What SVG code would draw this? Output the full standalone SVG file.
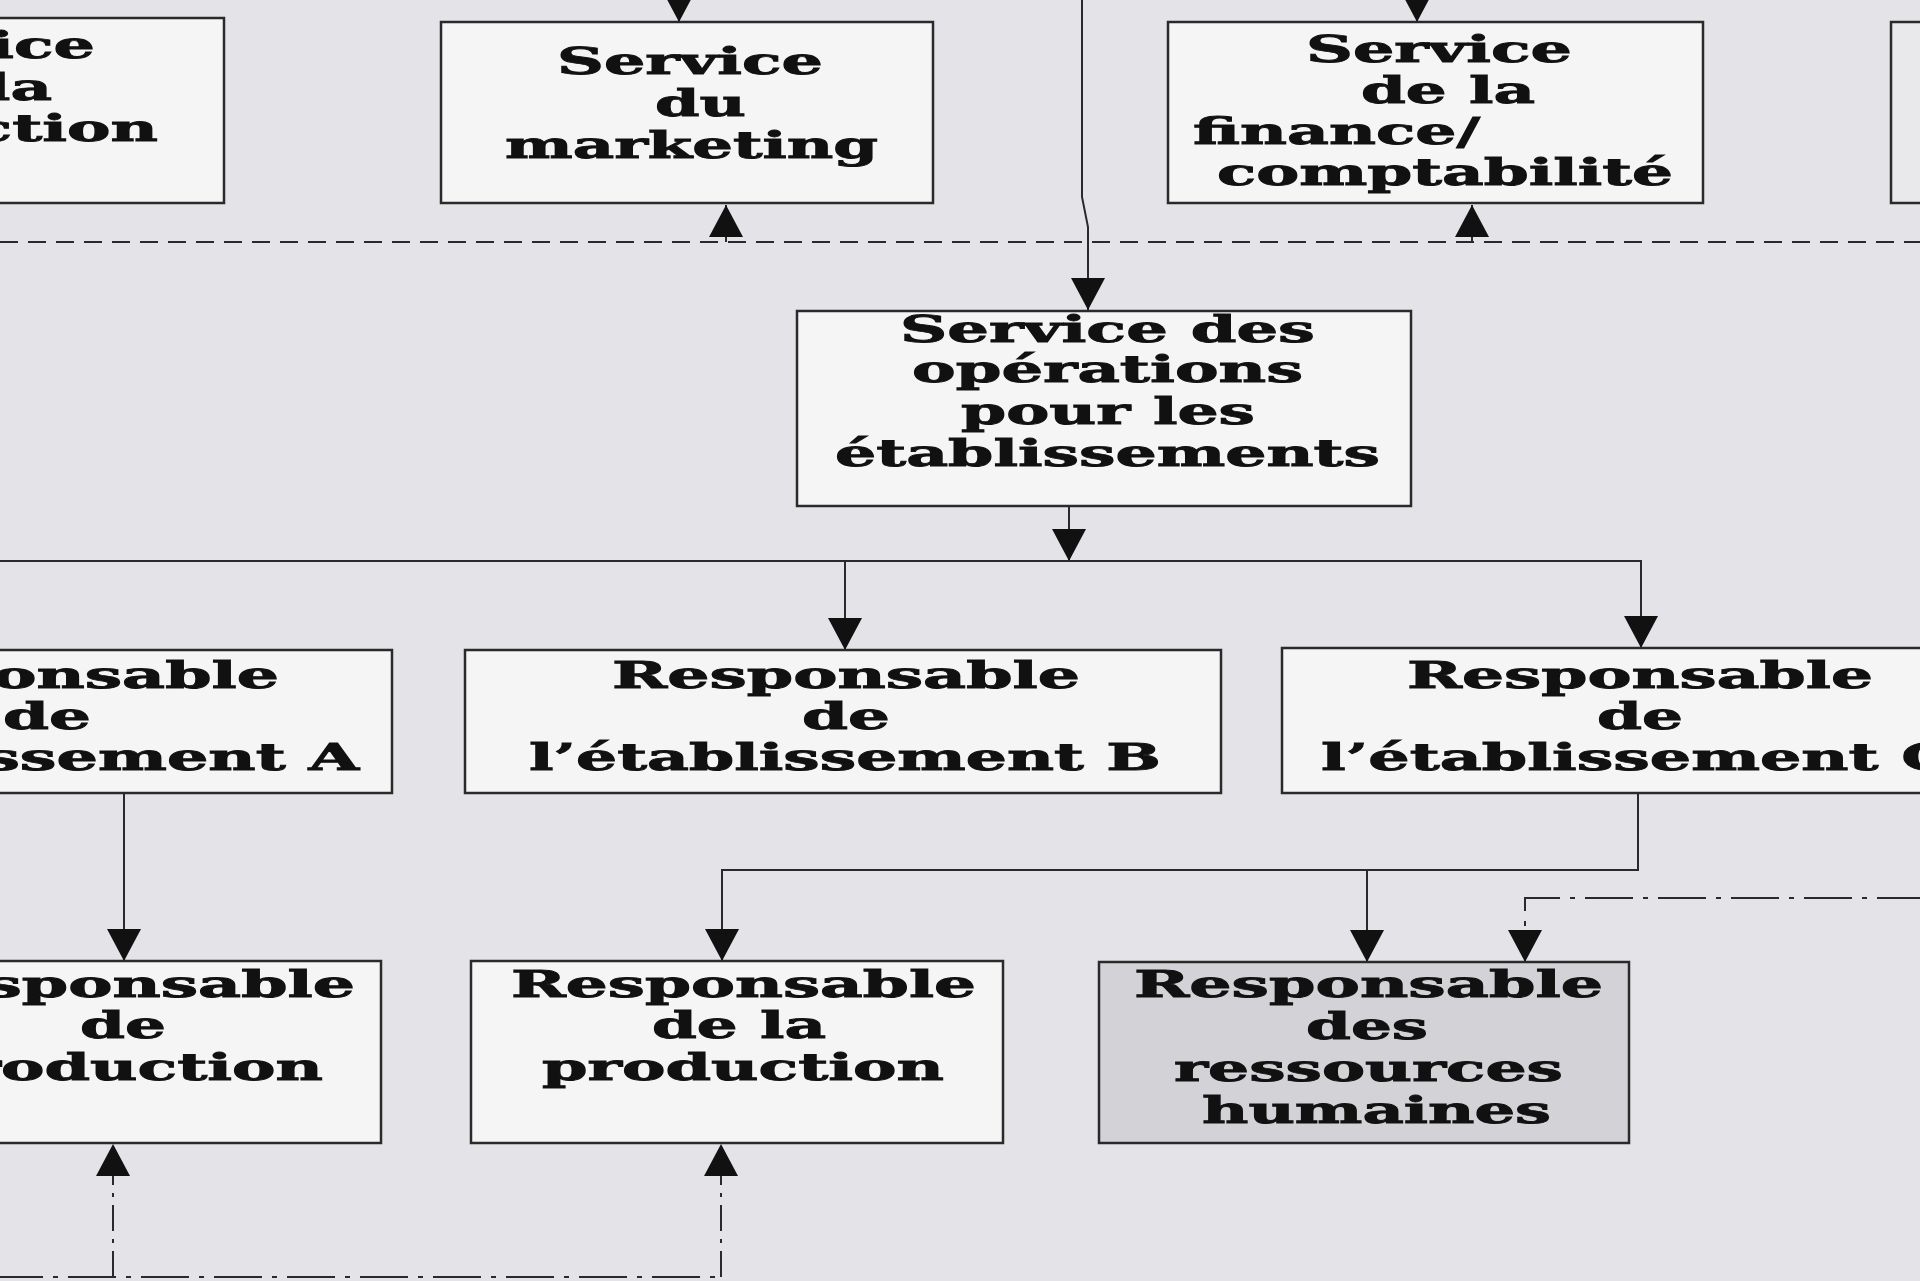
<svg xmlns="http://www.w3.org/2000/svg" xmlns:xlink="http://www.w3.org/1999/xlink" width="1920" height="1281" viewBox="0 0 1920 1281">
<style>
.bg{fill:#e4e4e8}
.box{fill:#f5f5f5;stroke:#2a2a2a;stroke-width:2.5}
.grey{fill:#d3d3d7}
.edge{fill:#e9e9ec}
.t{font-family:"DejaVu Serif","Liberation Serif",serif;font-weight:bold;font-size:37px;fill:#111;stroke:#111;stroke-width:0.9}
.ln{fill:none;stroke:#2a2a2a;stroke-width:2}
.dash{stroke-dasharray:18 10}
.dd{stroke-dasharray:48 10 5 10}
.ddv{stroke-dasharray:26 8 4 8}
</style>
<defs>
<marker id="arr" markerUnits="userSpaceOnUse" viewBox="0 0 32 34" markerWidth="32" markerHeight="34" refX="32" refY="17" orient="auto">
<path d="M0,0 L32,17 L0,34 Z" fill="#111"/>
</marker>
</defs>
<rect class="bg" x="0" y="0" width="1920" height="1281"/>

<g id="connectors">
<line class="ln" x1="679" y1="-10" x2="679" y2="22" marker-end="url(#arr)"/>
<line class="ln" x1="1417" y1="-10" x2="1417" y2="22" marker-end="url(#arr)"/>
<path class="ln" d="M1082,-5 L1082,197 L1088,227 L1088,310" marker-end="url(#arr)"/>
<line class="ln dash" x1="0" y1="242" x2="1920" y2="242"/>
<line class="ln" x1="726" y1="242" x2="726" y2="205" marker-end="url(#arr)"/>
<line class="ln" x1="1472" y1="242" x2="1472" y2="205" marker-end="url(#arr)"/>
<line class="ln" x1="1069" y1="506" x2="1069" y2="561" marker-end="url(#arr)"/>
<path class="ln" d="M-5,561 H1641 V648" marker-end="url(#arr)"/>
<line class="ln" x1="845" y1="561" x2="845" y2="650" marker-end="url(#arr)"/>
<line class="ln" x1="124" y1="793" x2="124" y2="961" marker-end="url(#arr)"/>
<path class="ln" d="M1638,793 V870 H722 V961" marker-end="url(#arr)"/>
<line class="ln" x1="1367" y1="870" x2="1367" y2="962" marker-end="url(#arr)"/>
<path class="ln dd" d="M1925,898 H1525 V962" marker-end="url(#arr)"/>
<line class="ln dd" x1="-5" y1="1277" x2="721" y2="1277"/>
<line class="ln ddv" x1="113" y1="1277" x2="113" y2="1144" marker-end="url(#arr)"/>
<line class="ln ddv" x1="721" y1="1277" x2="721" y2="1144" marker-end="url(#arr)"/>
</g>

<g id="service-production">
<rect class="box" x="-310" y="18" width="534" height="185"/>
<text class="t" x="-171" y="58" textLength="266" lengthAdjust="spacingAndGlyphs">Service</text>
<text class="t" x="-122" y="100" textLength="174" lengthAdjust="spacingAndGlyphs">de la</text>
<text class="t" x="-244" y="141" textLength="402" lengthAdjust="spacingAndGlyphs">production</text>
</g>

<g id="service-marketing">
<rect class="box" x="441" y="22" width="492" height="181"/>
<text class="t" x="557" y="74" textLength="266" lengthAdjust="spacingAndGlyphs">Service</text>
<text class="t" x="655" y="116" textLength="91" lengthAdjust="spacingAndGlyphs">du</text>
<text class="t" x="505" y="158" textLength="373" lengthAdjust="spacingAndGlyphs">marketing</text>
</g>

<g id="service-finance">
<rect class="box" x="1168" y="22" width="535" height="181"/>
<text class="t" x="1306" y="62" textLength="266" lengthAdjust="spacingAndGlyphs">Service</text>
<text class="t" x="1361" y="103" textLength="174" lengthAdjust="spacingAndGlyphs">de la</text>
<text class="t" x="1193" y="144" textLength="287" lengthAdjust="spacingAndGlyphs">finance/</text>
<text class="t" x="1217" y="185" textLength="456" lengthAdjust="spacingAndGlyphs">comptabilité</text>
</g>

<g id="service-right">
<rect class="box edge" x="1891" y="22" width="200" height="181"/>
</g>

<g id="service-operations">
<rect class="box" x="797" y="311" width="614" height="195"/>
<text class="t" x="900" y="342" textLength="415" lengthAdjust="spacingAndGlyphs">Service des</text>
<text class="t" x="912" y="382" textLength="391" lengthAdjust="spacingAndGlyphs">opérations</text>
<text class="t" x="961" y="424" textLength="294" lengthAdjust="spacingAndGlyphs">pour les</text>
<text class="t" x="835" y="466" textLength="545" lengthAdjust="spacingAndGlyphs">établissements</text>
</g>

<g id="resp-etab-a">
<rect class="box" x="-300" y="650" width="692" height="143"/>
<text class="t" x="-189" y="688" textLength="468" lengthAdjust="spacingAndGlyphs">Responsable</text>
<text class="t" x="3" y="729" textLength="88" lengthAdjust="spacingAndGlyphs">de</text>
<text class="t" x="-273" y="770" textLength="632" lengthAdjust="spacingAndGlyphs">l’établissement A</text>
</g>

<g id="resp-etab-b">
<rect class="box" x="465" y="650" width="756" height="143"/>
<text class="t" x="612" y="688" textLength="468" lengthAdjust="spacingAndGlyphs">Responsable</text>
<text class="t" x="802" y="729" textLength="88" lengthAdjust="spacingAndGlyphs">de</text>
<text class="t" x="529" y="770" textLength="632" lengthAdjust="spacingAndGlyphs">l’établissement B</text>
</g>

<g id="resp-etab-c">
<rect class="box" x="1282" y="648" width="760" height="145"/>
<text class="t" x="1407" y="688" textLength="466" lengthAdjust="spacingAndGlyphs">Responsable</text>
<text class="t" x="1597" y="729" textLength="86" lengthAdjust="spacingAndGlyphs">de</text>
<text class="t" x="1321" y="770" textLength="632" lengthAdjust="spacingAndGlyphs">l’établissement C</text>
</g>

<g id="resp-production-a">
<rect class="box" x="-200" y="961" width="581" height="182"/>
<text class="t" x="-113" y="997" textLength="468" lengthAdjust="spacingAndGlyphs">Responsable</text>
<text class="t" x="80" y="1038" textLength="86" lengthAdjust="spacingAndGlyphs">de</text>
<text class="t" x="-79" y="1080" textLength="402" lengthAdjust="spacingAndGlyphs">production</text>
</g>

<g id="resp-production-b">
<rect class="box" x="471" y="961" width="532" height="182"/>
<text class="t" x="511" y="997" textLength="465" lengthAdjust="spacingAndGlyphs">Responsable</text>
<text class="t" x="652" y="1038" textLength="174" lengthAdjust="spacingAndGlyphs">de la</text>
<text class="t" x="542" y="1080" textLength="402" lengthAdjust="spacingAndGlyphs">production</text>
</g>

<g id="resp-rh">
<rect class="box grey" x="1099" y="962" width="530" height="181"/>
<text class="t" x="1134" y="997" textLength="469" lengthAdjust="spacingAndGlyphs">Responsable</text>
<text class="t" x="1306" y="1039" textLength="122" lengthAdjust="spacingAndGlyphs">des</text>
<text class="t" x="1174" y="1081" textLength="389" lengthAdjust="spacingAndGlyphs">ressources</text>
<text class="t" x="1202" y="1123" textLength="349" lengthAdjust="spacingAndGlyphs">humaines</text>
</g>
</svg>
